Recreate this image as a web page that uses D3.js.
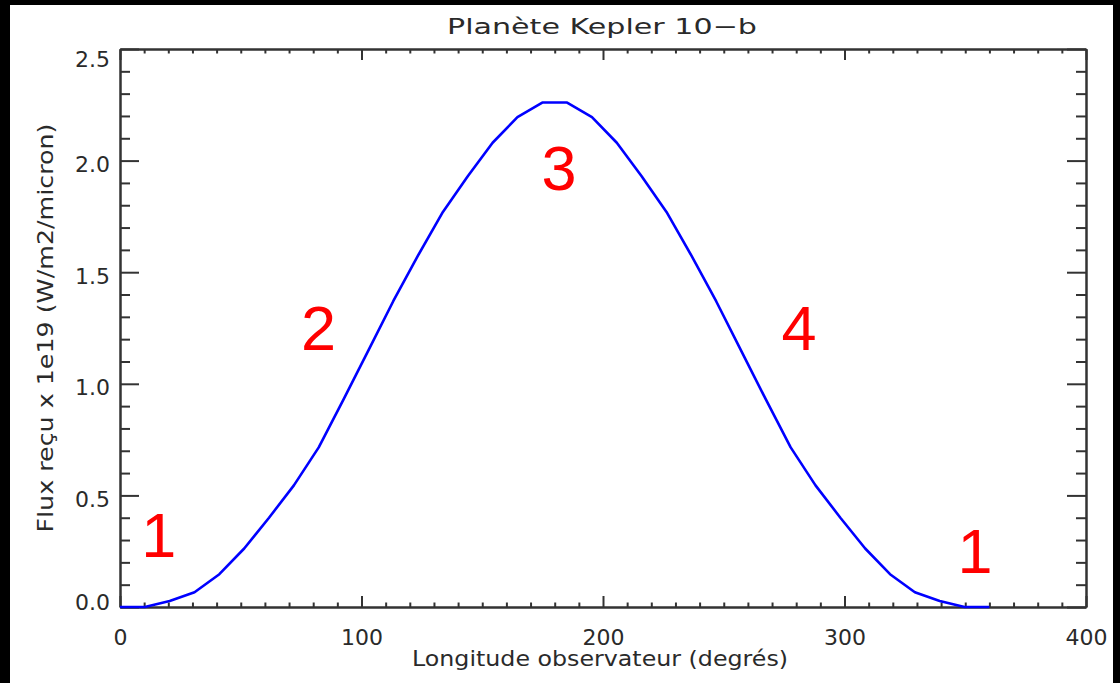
<!DOCTYPE html>
<html>
<head>
<meta charset="utf-8">
<script src="https://cdn.jsdelivr.net/npm/d3@7"></script>
<style>
  html, body { margin: 0; padding: 0; background: #000; overflow: hidden; }
  svg { display: block; }
  .axis path, .axis line { stroke: #333; stroke-width: 2; fill: none; }
  .axis text, .label { font-family: "DejaVu Sans", sans-serif; font-size: 22px; fill: #2a2a2a; }
  .note { font-family: "Liberation Sans", Arial, sans-serif; font-size: 63px; fill: #ff0000; }
</style>
</head>
<body>
<div id="js_chart"></div>
<script>
// observer longitude (deg), sampled along the orbit
var longitudes = [0, 10.29, 20.57, 30.86, 41.14, 51.43, 61.71, 72.00, 82.29, 92.57,
                  102.86, 113.14, 123.43, 133.71, 144.00, 154.29, 164.57, 174.86,
                  185.14, 195.43, 205.71, 216.00, 226.29, 236.57, 246.86, 257.14,
                  267.43, 277.71, 288.00, 298.29, 308.57, 318.86, 329.14, 339.43,
                  349.71, 360];

// received flux x 1e19 (W/m2/micron)
var flux = [0, 0.00, 0.027, 0.066, 0.147, 0.262, 0.40, 0.545, 0.715, 0.93,
            1.15, 1.37, 1.575, 1.77, 1.93, 2.08, 2.195, 2.26,
            2.26, 2.195, 2.08, 1.93, 1.77, 1.575, 1.37, 1.15,
            0.93, 0.715, 0.545, 0.40, 0.262, 0.147, 0.066, 0.027,
            0.00, 0];

var xTicks = [0, 100, 200, 300, 400];
var yTicks = [0, 0.5, 1.0, 1.5, 2.0, 2.5];

// phase labels, placed in data units
var noteText = ["1", "2", "3", "4", "1"];
var noteLon  = [16.1, 82.2, 181.8, 281.2, 354];
var noteFlux = [0.224, 1.151, 1.868, 1.151, 0.152];

var title  = "Planète Kepler 10\u2212b";
var xTitle = "Longitude observateur (degrés)";
var yTitle = "Flux reçu x 1e19 (W/m2/micron)";

var W = 1120, H = 683;
var plotL = 120, plotR = 1086, plotT = 49, plotB = 607;

var svg = d3.select("#js_chart").append("svg")
    .attr("width", W)
    .attr("height", H);

// white page inside the black frame
svg.append("rect")
    .attr("x", 10).attr("y", 5)
    .attr("width", 1103).attr("height", H - 5)
    .attr("fill", "#fff");

var x = d3.scaleLinear().domain([0, 400]).range([plotL, plotR]);
var y = d3.scaleLinear().domain([0, 2.5]).range([plotB, plotT]);

var xMinor = x.ticks(40).filter(function (v) { return xTicks.indexOf(v) < 0; });
var yMinor = y.ticks(25).filter(function (v) {
    return !yTicks.some(function (t) { return Math.abs(t - v) < 1e-9; });
});

function drawAxis(axis, tx, ty) {
    return svg.append("g")
        .attr("class", "axis")
        .attr("transform", "translate(" + tx + "," + ty + ")")
        .call(axis);
}

// minor ticks first (no labels)
drawAxis(d3.axisBottom(x).tickValues(xMinor).tickSize(-4.5).tickSizeOuter(0).tickFormat(""), 0, plotB);
drawAxis(d3.axisTop(x).tickValues(xMinor).tickSize(-4.5).tickSizeOuter(0).tickFormat(""), 0, plotT);
drawAxis(d3.axisLeft(y).tickValues(yMinor).tickSize(-10).tickSizeOuter(0).tickFormat(""), plotL, 0);
drawAxis(d3.axisRight(y).tickValues(yMinor).tickSize(-10).tickSizeOuter(0).tickFormat(""), plotR, 0);

// major ticks
var gx = drawAxis(d3.axisBottom(x).tickValues(xTicks).tickSize(-11).tickSizeOuter(0)
    .tickFormat(d3.format("d")), 0, plotB);
gx.selectAll("text").attr("dy", null).attr("y", 38);

drawAxis(d3.axisTop(x).tickValues(xTicks).tickSize(-11).tickSizeOuter(0).tickFormat(""), 0, plotT);

var gy = drawAxis(d3.axisLeft(y).tickValues(yTicks).tickSize(-19).tickSizeOuter(0)
    .tickPadding(10).tickFormat(d3.format(".1f")), plotL, 0);
gy.selectAll("text")
    .attr("dy", null)
    .attr("y", function (d) {
        var base = y(d) + 11;
        if (base - 16 < plotT) base = plotT + 17;
        if (base > plotB + 2) base = plotB + 2;
        return base - y(d);
    });

drawAxis(d3.axisRight(y).tickValues(yTicks).tickSize(-19).tickSizeOuter(0).tickFormat(""), plotR, 0);

// the curve
var line = d3.line()
    .x(function (d, i) { return x(longitudes[i]); })
    .y(function (d) { return y(d); });

svg.append("path")
    .datum(flux)
    .attr("d", line)
    .attr("fill", "none")
    .attr("stroke", "#0000ff")
    .attr("stroke-width", 2.6)
    .attr("stroke-linejoin", "round");

// phase numbers
svg.selectAll("text.note")
    .data(noteText)
    .enter().append("text")
    .attr("class", "note")
    .attr("text-anchor", "middle")
    .attr("x", function (d, i) { return x(noteLon[i]); })
    .attr("y", function (d, i) { return y(noteFlux[i]); })
    .text(function (d) { return d; });

// titles
svg.append("text")
    .attr("class", "label")
    .attr("text-anchor", "middle")
    .attr("x", 602).attr("y", 34)
    .attr("textLength", 310).attr("lengthAdjust", "spacingAndGlyphs")
    .text(title);

svg.append("text")
    .attr("class", "label")
    .attr("text-anchor", "middle")
    .attr("x", 600).attr("y", 666)
    .attr("textLength", 376).attr("lengthAdjust", "spacingAndGlyphs")
    .text(xTitle);

svg.append("text")
    .attr("class", "label")
    .attr("text-anchor", "middle")
    .attr("transform", "translate(53," + ((plotT + plotB) / 2) + ") rotate(-90)")
    .attr("textLength", 409).attr("lengthAdjust", "spacingAndGlyphs")
    .text(yTitle);
</script>
</body>
</html>
